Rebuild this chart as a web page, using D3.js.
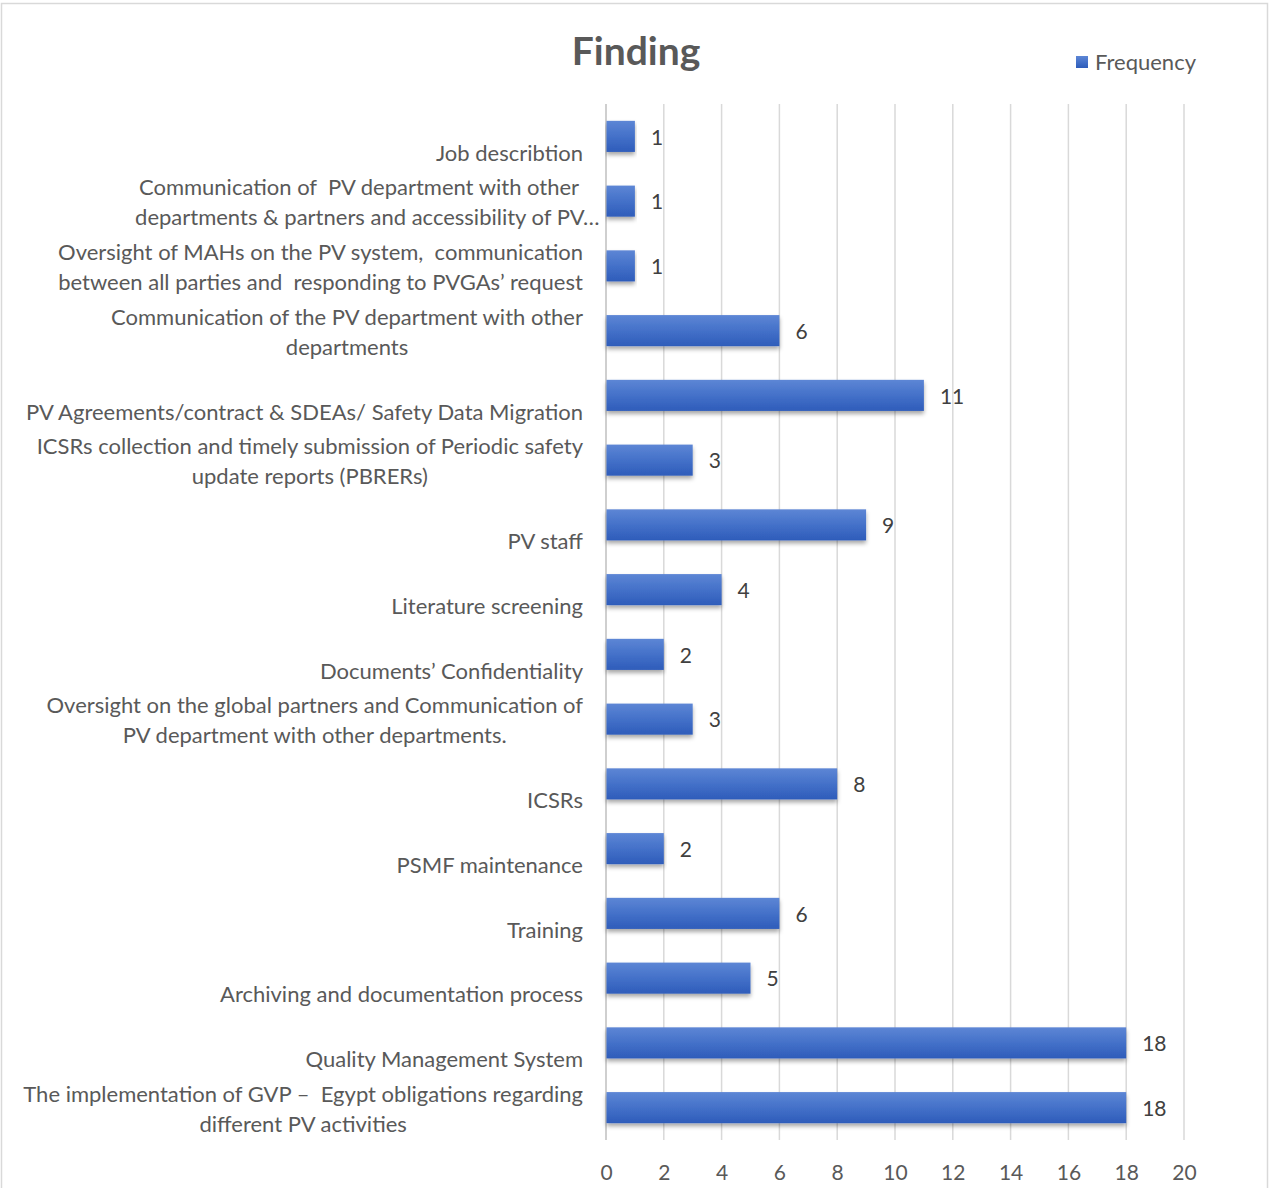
<!DOCTYPE html>
<html>
<head>
<meta charset="utf-8">
<script src="https://cdn.jsdelivr.net/npm/d3@7"></script>
<style>
  body { margin: 0; background: #fff; }
  svg { display: block; }
  text { white-space: pre; }
</style>
</head>
<body>
<svg id="chart" width="1270" height="1188"></svg>
<script>
// Findings by category (top to bottom), with their frequency
const categories = [
  "Job describtion",
  "Communication of  PV department with other\ndepartments & partners and accessibility of PV…",
  "Oversight of MAHs on the PV system,  communication\nbetween all parties and  responding to PVGAs’ request",
  "Communication of the PV department with other\ndepartments",
  "PV Agreements/contract & SDEAs/ Safety Data Migration",
  "ICSRs collection and timely submission of Periodic safety\nupdate reports (PBRERs)",
  "PV staff",
  "Literature screening",
  "Documents’ Confidentiality",
  "Oversight on the global partners and Communication of\nPV department with other departments.",
  "ICSRs",
  "PSMF maintenance",
  "Training",
  "Archiving and documentation process",
  "Quality Management System",
  "The implementation of GVP –  Egypt obligations regarding\ndifferent PV activities"
];
const values = [1, 1, 1, 6, 11, 3, 9, 4, 2, 3, 8, 2, 6, 5, 18, 18];
const xTicks = [0, 2, 4, 6, 8, 10, 12, 14, 16, 18, 20];
const seriesName = "Frequency";
const chartTitle = "Finding";

const FONT = "Lato, 'Open Sans', sans-serif";
const svg = d3.select("#chart");

// Frame around the chart area
svg.append("rect")
  .attr("x", 1.5).attr("y", 3.5)
  .attr("width", 1266).attr("height", 1190)
  .attr("fill", "#fff").attr("stroke", "#d9d9d9").attr("stroke-width", 1.5);

const defs = svg.append("defs");
const grad = defs.append("linearGradient")
  .attr("id", "barFill").attr("x1", 0).attr("y1", 0).attr("x2", 0).attr("y2", 1);
grad.append("stop").attr("offset", "0%").attr("stop-color", "#5d86d5");
grad.append("stop").attr("offset", "50%").attr("stop-color", "#4471c9");
grad.append("stop").attr("offset", "100%").attr("stop-color", "#2e5cba");

const shadow = defs.append("filter").attr("id", "barShadow")
  .attr("x", "-5%").attr("y", "-30%").attr("width", "110%").attr("height", "170%");
shadow.append("feDropShadow")
  .attr("dx", 0).attr("dy", 3).attr("stdDeviation", 2.2)
  .attr("flood-color", "#000").attr("flood-opacity", 0.35);

const x = d3.scaleLinear().domain([0, 20]).range([606, 1184]);
const y = d3.scaleBand().domain(categories).range([104, 1140])
  .paddingInner(0.52).paddingOuter(0.26);

// Vertical gridlines
svg.append("g").selectAll("line")
  .data(xTicks)
  .join("line")
  .attr("x1", d => x(d)).attr("x2", d => x(d))
  .attr("y1", 104).attr("y2", 1140)
  .attr("stroke", d => d === 0 ? "#bfbfbf" : "#d9d9d9")
  .attr("stroke-width", 1.5);

// X axis tick labels
const xAxis = d3.axisBottom(x).tickValues(xTicks).tickSize(0).tickPadding(0);
const gx = svg.append("g").attr("transform", "translate(0,1173)").call(xAxis);
gx.select(".domain").remove();
gx.selectAll("text")
  .attr("dy", "0.35em").attr("y", 0)
  .attr("font-family", FONT).attr("font-size", 21).attr("fill", "#595959");

// Bars
svg.append("g").selectAll("rect")
  .data(categories.map((c, i) => ({ c, v: values[i] })))
  .join("rect")
  .attr("x", x(0) + 0.5)
  .attr("y", d => y(d.c))
  .attr("width", d => x(d.v) - x(0) - 0.5)
  .attr("height", y.bandwidth())
  .attr("fill", "url(#barFill)")
  .attr("filter", "url(#barShadow)");

// Value labels
svg.append("g").selectAll("text")
  .data(categories.map((c, i) => ({ c, v: values[i] })))
  .join("text")
  .attr("x", d => x(d.v) + 16)
  .attr("y", d => y(d.c) + y.bandwidth() / 2 + 1)
  .attr("dy", "0.35em")
  .attr("font-family", FONT).attr("font-size", 21).attr("fill", "#404040")
  .text(d => d.v);

// Category labels: multi-line blocks, lines centred within the block,
// block right-aligned against the axis
const labelRight = 583;
const gLab = svg.append("g")
  .attr("font-family", FONT).attr("font-size", 22).attr("fill", "#595959");
categories.forEach(c => {
  const lines = c.split("\n");
  const cy = y(c) + y.bandwidth() / 2 + 1.5;
  const offsets = lines.length === 1 ? [15] : [-15, 15];
  const texts = lines.map((ln, i) => gLab.append("text")
    .attr("y", cy + offsets[i]).attr("dy", "0.35em")
    .attr("text-anchor", "middle").text(ln));
  // width of each line, not counting a trailing ellipsis
  const widths = texts.map((t, i) => {
    const full = t.node().getComputedTextLength();
    if (lines[i].endsWith("…")) {
      const n = lines[i].length;
      return full - t.node().getSubStringLength(n - 1, 1);
    }
    return full;
  });
  const blockW = d3.max(widths);
  const cx = labelRight - blockW / 2;
  texts.forEach((t, i) => {
    const extra = lines[i].endsWith("…") ? (t.node().getComputedTextLength() - widths[i]) / 2 : 0;
    t.attr("x", cx + extra);
  });
});

// Title
svg.append("text")
  .attr("x", 636).attr("y", 51).attr("dy", "0.35em")
  .attr("text-anchor", "middle")
  .attr("font-family", FONT).attr("font-weight", "bold")
  .attr("font-size", 39).attr("fill", "#595959")
  .text(chartTitle);

// Legend
const lg = svg.append("g").attr("transform", "translate(1076,56)");
lg.append("rect").attr("width", 12).attr("height", 12).attr("fill", "url(#barFill)");
lg.append("text").attr("x", 19).attr("y", 6.5).attr("dy", "0.35em")
  .attr("font-family", FONT).attr("font-size", 22).attr("fill", "#595959")
  .text(seriesName);
</script>
</body>
</html>
